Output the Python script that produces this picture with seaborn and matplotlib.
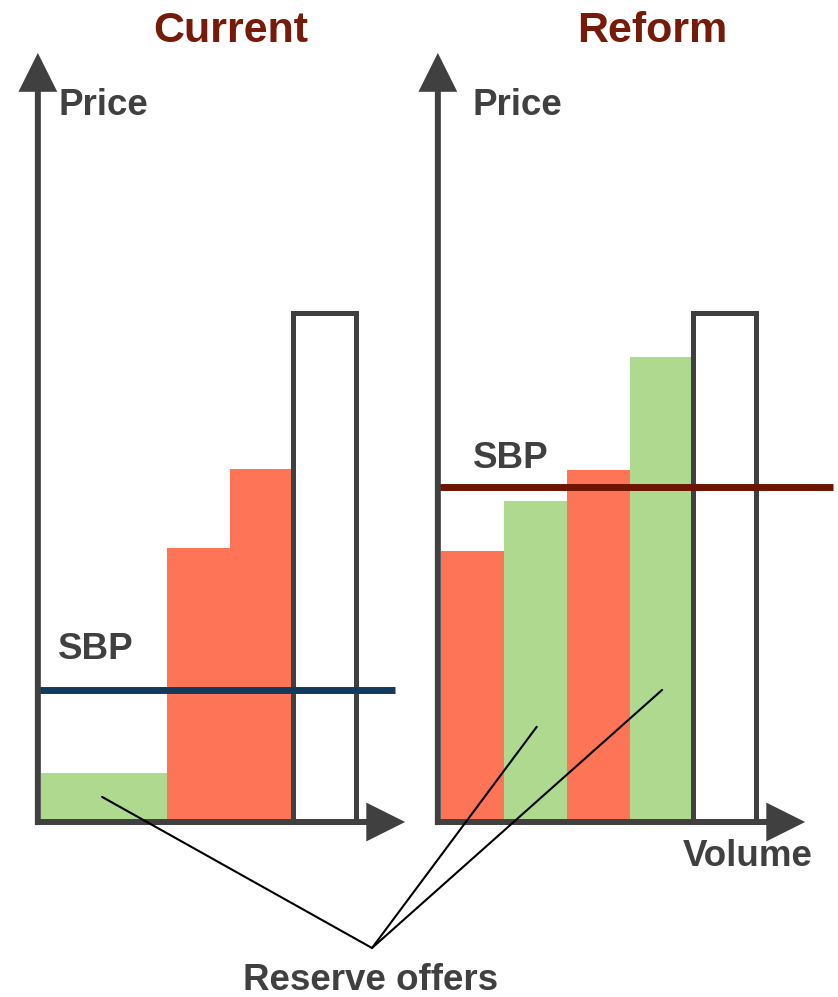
import numpy as np
import matplotlib
matplotlib.use("Agg")
import matplotlib.pyplot as plt
from matplotlib.patches import FancyArrowPatch, ArrowStyle
import seaborn as sns

# data (volume blocks and price levels)
current_edges = [0, 2, 3, 4, 5]
current_prices = [9.6, 53.5, 69.0, 99.5]
current_kind = ["reserve", "energy", "energy", "other"]
current_sbp = 25.7

reform_edges = [0, 1, 2, 3, 4, 5]
reform_prices = [53.0, 62.7, 68.8, 90.8, 99.5]
reform_kind = ["energy", "reserve", "energy", "reserve", "other"]
reform_sbp = 65.4

# pointer targets for "Reserve offers" (volume, price)
current_pointers = [(0.97, 4.9)]
reform_pointers = [(1.52, 18.6), (3.51, 25.8)]

sns.set_theme(style="white")
plt.rcParams["font.family"] = ["Liberation Sans", "DejaVu Sans"]

W, H = 838, 997
PX_X, PX_Y = 63.0, 5.12   # pixels per volume unit / price unit
Y0 = 822                  # pixel row of price 0

colors = {"reserve": "#AED98E", "energy": "#FD7456", "other": "white"}
dark = "#404040"

fig = plt.figure(figsize=(W / 100, H / 100), dpi=100)


def make_ax(left_px, right_px, x0_px):
    ax = fig.add_axes([left_px / W, 0, (right_px - left_px) / W, 1])
    ax.set_xlim((left_px - x0_px) / PX_X, (right_px - x0_px) / PX_X)
    ax.set_ylim((Y0 - H) / PX_Y, Y0 / PX_Y)
    ax.axis("off")
    return ax


def draw_panel(ax, edges, prices, kinds, sbp, sbp_color, sbp_end):
    edges = np.array(edges, dtype=float)
    for x, w, h, k in zip(edges[:-1], np.diff(edges), prices, kinds):
        if k == "other":
            ax.bar(x, h, width=w, align="edge", color="white",
                   edgecolor=dark, linewidth=3.6, zorder=2)
        else:
            ax.bar(x, h, width=w, align="edge", color=colors[k],
                   linewidth=0, zorder=2)
    ax.hlines(sbp, -0.05, sbp_end, color=sbp_color, linewidth=5, zorder=3)
    style = ArrowStyle("-|>", head_length=21, head_width=10.5)
    ax_x = -0.05
    for a, b in [((ax_x, -0.6), (ax_x, 150.2)), ((ax_x - 0.03, 0), (5.78, 0))]:
        arr = FancyArrowPatch(a, b, arrowstyle=style, mutation_scale=1,
                              shrinkA=0, shrinkB=0, joinstyle="miter",
                              capstyle="butt", color=dark, linewidth=4.3,
                              zorder=4, clip_on=False)
        ax.add_patch(arr)


ax1 = make_ax(0, 419, 41)
ax2 = make_ax(419, 838, 441)
draw_panel(ax1, current_edges, current_prices, current_kind,
           current_sbp, "#123A5A", 5.62)
draw_panel(ax2, reform_edges, reform_prices, reform_kind,
           reform_sbp, "#6E1402", 6.22)

meet = (372 / W, 1 - 948 / H)
for ax, pts in [(ax1, current_pointers), (ax2, reform_pointers)]:
    for p in pts:
        ax.annotate("", xy=p, xytext=meet, textcoords="figure fraction",
                    arrowprops=dict(arrowstyle="-", color="black", lw=1.5,
                                    shrinkA=0, shrinkB=0), zorder=5)


def ftext(x, y, s, size, color=dark):
    fig.text(x / W, 1 - y / H, s, fontsize=size, fontweight="bold",
             color=color, ha="center", va="baseline")


title_color = "#761A0A"
ftext(231, 42, "Current", 31, title_color)
ftext(652, 42, "Reform", 31, title_color)
ftext(103, 115, "Price", 26.5)
ftext(517, 115, "Price", 26.5)
ftext(96, 659, "SBP", 26.5)
ftext(511, 468, "SBP", 26.5)
ftext(748, 866, "Volume", 26.5)
ftext(371, 990, "Reserve offers", 26.5)

fig.savefig("out.png", dpi=100)
